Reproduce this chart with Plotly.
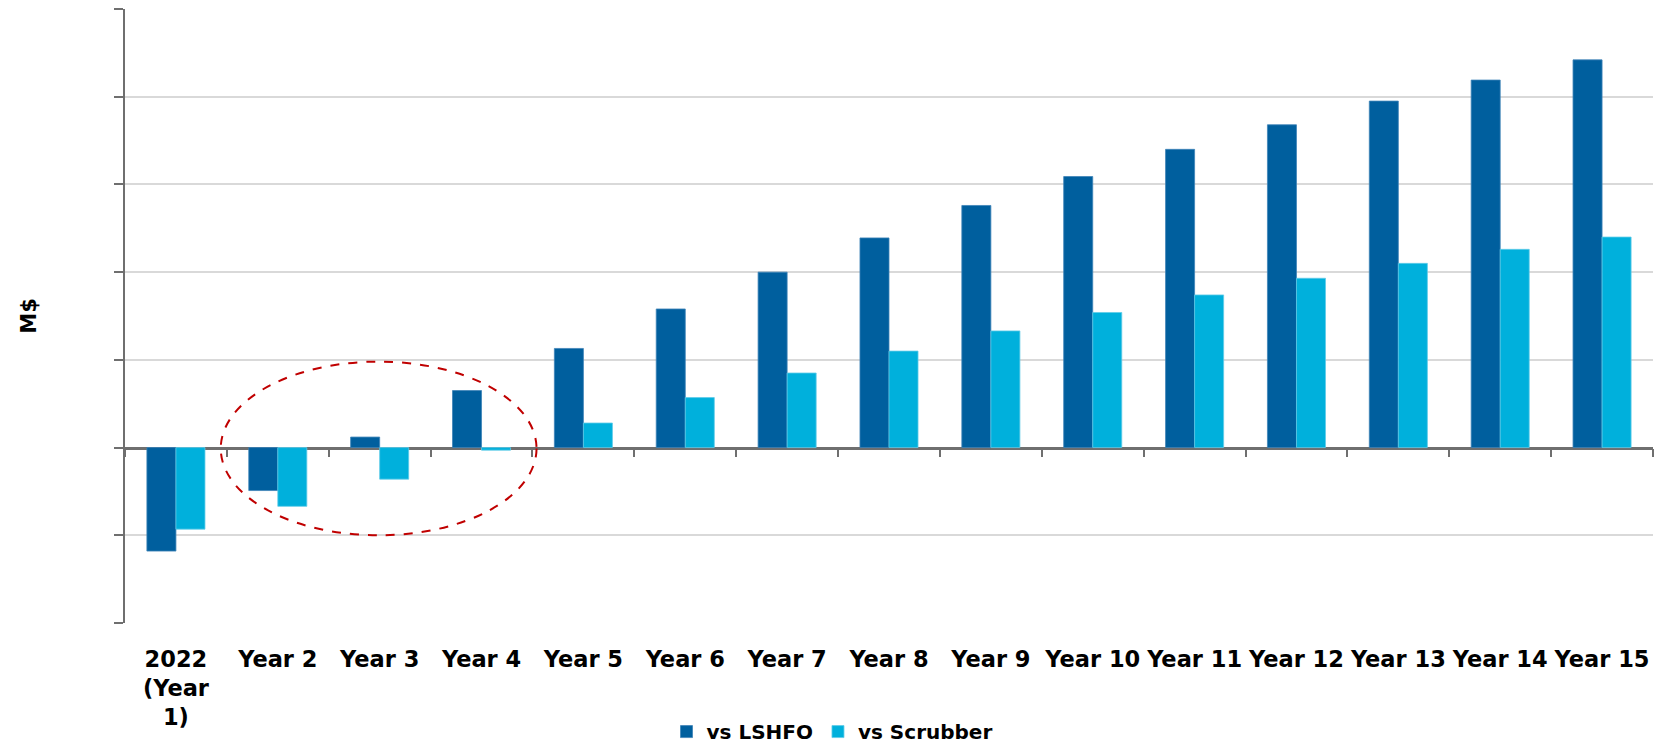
import plotly.graph_objects as go

categories = ["2022<br>(Year<br>1)", "Year 2", "Year 3", "Year 4", "Year 5", "Year 6", "Year 7",
              "Year 8", "Year 9", "Year 10", "Year 11", "Year 12", "Year 13", "Year 14", "Year 15"]
vs_lshfo = [-1.18, -0.49, 0.12, 0.65, 1.13, 1.58, 2.00, 2.39, 2.76, 3.09, 3.40, 3.68, 3.95, 4.19, 4.42]
vs_scrubber = [-0.93, -0.67, -0.36, -0.03, 0.28, 0.57, 0.85, 1.10, 1.33, 1.54, 1.74, 1.93, 2.10, 2.26, 2.40]
y_ticks = [-2, -1, 0, 1, 2, 3, 4, 5]
boundaries = [i - 0.5 for i in range(len(categories) + 1)]
zero_level = [0] * len(boundaries)

FONT = "DejaVu Sans"
AXIS_GREY = "#6f6f6f"
GRID_GREY = "#d9d9d9"

fig = go.Figure()
fig.add_trace(go.Bar(x=categories, y=vs_lshfo, name="vs LSHFO",
                     marker=dict(color="#005F9E", line=dict(color="#3d83b8", width=0.8))))
fig.add_trace(go.Bar(x=categories, y=vs_scrubber, name="vs Scrubber",
                     marker=dict(color="#00B0DC", line=dict(color="#5fcbe8", width=0.8))))
# invisible helper so the zero-level category axis (line + boundary ticks) is drawn
fig.add_trace(go.Scatter(x=boundaries, y=zero_level, xaxis="x2", mode="none",
                         showlegend=False, hoverinfo="skip"))

fig.add_shape(type="circle", xref="x", yref="y", x0=0.44, x1=3.54, y0=-1.0, y1=0.98,
              line=dict(color="#C00000", width=2, dash="dash"), layer="above")

fig.update_layout(
    width=1664, height=745,
    margin=dict(l=125, r=11, t=9, b=122, autoexpand=False),
    paper_bgcolor="white", plot_bgcolor="white",
    barmode="group", bargap=0.43, bargroupgap=0,
    font=dict(family=FONT, size=22, color="black", weight="bold"),
    showlegend=True,
    legend=dict(orientation="h", xref="container", yref="container", x=0.5, xanchor="center",
                y=0.018, yanchor="middle", font=dict(size=20, weight="bold"),
                itemwidth=30, tracegroupgap=0),
    xaxis=dict(type="category", showline=False, ticks="", showgrid=False, zeroline=False,
               tickfont=dict(size=22.5, weight="bold"), ticklabelstandoff=20, automargin=False,
               range=[-0.5, len(categories) - 0.5]),
    xaxis2=dict(overlaying="x", anchor="free", position=2 / 7, range=[-0.5, len(categories) - 0.5],
                tickmode="array", tickvals=boundaries, ticks="outside", ticklen=8, tickwidth=2,
                tickcolor=AXIS_GREY, showline=True, linecolor=AXIS_GREY, linewidth=2.5,
                showgrid=False, showticklabels=False, zeroline=False, automargin=False,
                layer="below traces"),
    yaxis=dict(range=[-2, 5], tickmode="array", tickvals=y_ticks, showticklabels=False,
               ticks="outside", ticklen=9, tickwidth=2, tickcolor=AXIS_GREY,
               showline=True, linecolor=AXIS_GREY, linewidth=2, automargin=False,
               showgrid=True, gridcolor=GRID_GREY, gridwidth=2, zeroline=False,
               title=dict(text="M$", font=dict(size=21, weight="bold"), standoff=72)),
)

fig.write_html("out.html")
